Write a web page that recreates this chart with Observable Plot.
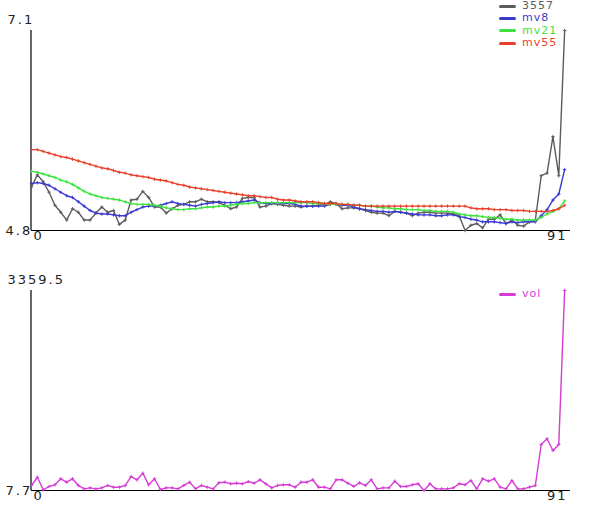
<!DOCTYPE html>
<html>
<head>
<meta charset="utf-8">
<script src="https://cdn.jsdelivr.net/npm/d3@7"></script>
<script src="https://cdn.jsdelivr.net/npm/@observablehq/plot@0.6"></script>
<style>
  html, body { margin: 0; padding: 0; background: #fff; }
  #wrap { position: relative; width: 600px; height: 520px; font-family: "DejaVu Sans", sans-serif; }
  #wrap svg { display: block; }
  .legend { position: absolute; left: 499px; font-size: 11px; letter-spacing: 1px; line-height: 12.3px; }
  .legend .row { display: flex; align-items: center; height: 12.3px; }
  .legend .sw { width: 17px; height: 3px; border-radius: 2px; margin-right: 6px; }
</style>
</head>
<body>
<div id="wrap"></div>
<script>
// ---- data ----
const seriesNames = ["3557", "mv8", "mv21", "mv55"];
const volName = "vol";
const xTicks = [0, 91];
const priceTicks = [4.8, 7.1];
const volTicks = [7.7, 3359.5];

const price = [5.30,5.44,5.36,5.24,5.09,5.01,4.92,5.05,5.01,4.92,4.92,5.00,5.07,5.01,5.03,4.87,4.92,5.15,5.16,5.25,
  5.18,5.07,5.07,5.00,5.05,5.09,5.10,5.13,5.13,5.16,5.13,5.13,5.12,5.09,5.05,5.07,5.17,5.18,5.18,5.07,
  5.08,5.11,5.10,5.09,5.08,5.08,5.07,5.08,5.08,5.09,5.10,5.13,5.11,5.05,5.06,5.06,5.05,5.03,5.01,5.00,
  5.00,4.97,5.02,5.01,5.00,4.97,5.00,5.01,5.01,5.00,5.00,5.00,4.99,4.97,4.80,4.86,4.88,4.83,4.93,4.93,
  4.98,4.88,4.92,4.86,4.85,4.90,4.92,5.43,5.46,5.88,5.43,7.10];
const mv8 = [5.34,5.35,5.34,5.32,5.28,5.24,5.20,5.18,5.13,5.08,5.03,5.00,4.99,4.99,4.98,4.97,4.97,5.01,5.04,5.07,
  5.08,5.08,5.09,5.11,5.13,5.11,5.10,5.09,5.08,5.10,5.11,5.12,5.13,5.12,5.12,5.12,5.13,5.14,5.15,5.12,
  5.11,5.11,5.12,5.11,5.11,5.10,5.08,5.08,5.08,5.08,5.08,5.10,5.10,5.09,5.09,5.07,5.05,5.04,5.03,5.02,
  5.02,5.01,5.02,5.01,5.00,4.99,4.98,4.98,4.98,4.97,4.97,4.98,4.98,4.96,4.95,4.93,4.92,4.90,4.90,4.90,
  4.89,4.88,4.90,4.89,4.90,4.90,4.90,4.97,5.04,5.15,5.22,5.50];
const mv21 = [5.48,5.47,5.45,5.43,5.41,5.38,5.36,5.33,5.29,5.25,5.22,5.20,5.18,5.17,5.16,5.15,5.13,5.11,5.10,5.10,
  5.10,5.09,5.08,5.06,5.05,5.04,5.04,5.05,5.05,5.06,5.07,5.07,5.08,5.08,5.09,5.10,5.11,5.11,5.12,5.12,
  5.12,5.12,5.12,5.12,5.12,5.12,5.12,5.12,5.11,5.11,5.11,5.10,5.10,5.10,5.10,5.09,5.09,5.08,5.08,5.07,
  5.06,5.06,5.05,5.05,5.04,5.04,5.04,5.03,5.03,5.02,5.02,5.02,5.01,4.99,4.98,4.97,4.97,4.96,4.95,4.95,
  4.94,4.93,4.93,4.92,4.92,4.92,4.92,4.95,4.99,5.02,5.05,5.14];
const mv55 = [5.73,5.73,5.71,5.69,5.67,5.65,5.64,5.62,5.60,5.58,5.56,5.54,5.52,5.51,5.49,5.47,5.46,5.44,5.43,5.42,
  5.41,5.39,5.38,5.37,5.35,5.33,5.32,5.30,5.29,5.28,5.27,5.26,5.25,5.24,5.23,5.22,5.21,5.20,5.20,5.19,
  5.18,5.18,5.16,5.15,5.15,5.14,5.13,5.13,5.13,5.12,5.11,5.11,5.11,5.10,5.10,5.09,5.09,5.08,5.08,5.08,
  5.08,5.08,5.08,5.08,5.08,5.08,5.08,5.08,5.08,5.08,5.08,5.08,5.08,5.08,5.08,5.06,5.05,5.05,5.05,5.04,
  5.04,5.04,5.03,5.03,5.03,5.02,5.02,5.02,5.02,5.03,5.05,5.09];
const vol = [92,230,19,75,103,204,147,204,92,35,52,35,52,92,63,63,92,242,187,298,
  103,204,25,52,52,35,92,147,35,92,63,35,137,147,120,130,120,158,130,187,
  120,52,92,103,103,63,147,147,187,63,63,35,187,187,130,75,137,92,187,35,
  52,52,164,75,75,103,120,7.7,120,35,35,35,52,120,103,175,35,204,164,204,
  63,35,175,35,35,63,92,779,874,678,779,3359.5];

const colors = {"3557": "#5c5c5c", "mv8": "#3a3ad0", "mv21": "#3ee23e", "mv55": "#e8402c", "vol": "#d53cd5"};

// ---- build ----
const priceSeries = [price, mv8, mv21, mv55];
const rows = [];
priceSeries.forEach((arr, k) => arr.forEach((v, i) => rows.push({i, v, s: seriesNames[k]})));
const volRows = vol.map((v, i) => ({i, v, s: volName}));

const labelStyle = {fontSize: 13, fill: "#222", fontFamily: "DejaVu Sans, sans-serif"};

function panel(data, yTicks, order) {
  const marks = [
    Plot.ruleX([xTicks[0]], {stroke: "#000", strokeWidth: 1.2, dx: -0.5}),
    Plot.ruleY([yTicks[0]], {stroke: "#000", strokeWidth: 1.2})
  ];
  order.forEach(name => {
    const d = data.filter(r => r.s === name);
    marks.push(Plot.line(d, {x: "i", y: "v", stroke: colors[name], strokeWidth: 1.4}));
    marks.push(Plot.dot(d, {x: "i", y: "v", symbol: "plus", r: 1.2, stroke: colors[name], strokeWidth: 0.9}));
  });
  marks.push(
    Plot.text([yTicks[1]], {y: d => d, text: d => String(d), frameAnchor: "left", textAnchor: "start", dx: -24, dy: -11, ...labelStyle}),
    Plot.text([yTicks[0]], {y: d => d, text: d => d.toFixed(1), frameAnchor: "left", textAnchor: "start", dx: -26, dy: 0, ...labelStyle}),
    Plot.text([xTicks[0]], {x: d => d, text: d => String(d), frameAnchor: "bottom", textAnchor: "start", dx: 2, dy: 9, ...labelStyle}),
    Plot.text([xTicks[1]], {x: d => d, text: d => String(d), frameAnchor: "bottom", textAnchor: "end", dx: 3, dy: 9, ...labelStyle})
  );
  return Plot.plot({
    width: 600, height: 260,
    marginTop: 30, marginBottom: 30, marginLeft: 31, marginRight: 30,
    x: {domain: [0, 92], axis: null},
    y: {domain: [yTicks[0], yTicks[1]], axis: null},
    style: {background: "transparent", letterSpacing: "2px"},
    marks
  });
}

const wrap = document.getElementById("wrap");
wrap.appendChild(panel(rows, priceTicks, ["3557", "mv8", "mv21", "mv55"]));
wrap.appendChild(panel(volRows, volTicks, [volName]));

function legend(names, top) {
  const div = document.createElement("div");
  div.className = "legend";
  div.style.top = top + "px";
  names.forEach(n => {
    const row = document.createElement("div");
    row.className = "row";
    row.style.color = colors[n];
    const sw = document.createElement("span");
    sw.className = "sw";
    sw.style.background = colors[n];
    row.appendChild(sw);
    row.appendChild(document.createTextNode(n));
    div.appendChild(row);
  });
  wrap.appendChild(div);
}
legend(seriesNames, 0);
legend([volName], 288);
</script>
</body>
</html>
